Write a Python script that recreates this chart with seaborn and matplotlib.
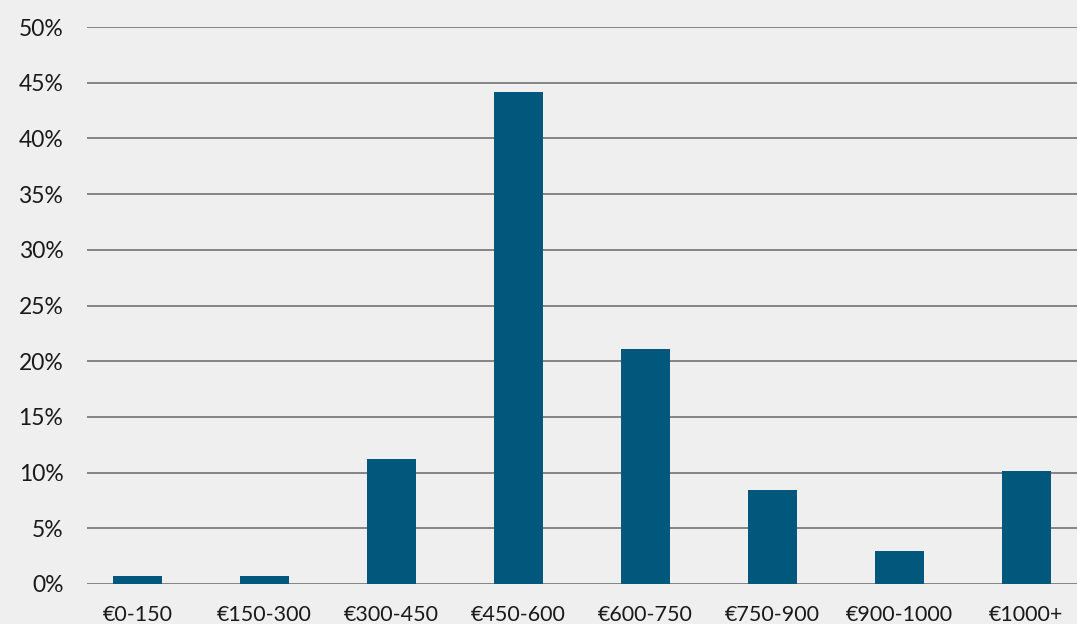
import matplotlib
matplotlib.use("Agg")
import matplotlib.pyplot as plt
import seaborn as sns
import pandas as pd
from matplotlib.ticker import PercentFormatter

sns.set_theme(style="white")
plt.rcParams["font.family"] = ["Lato", "DejaVu Sans"]

# faixas de preço e percentagem de respostas
categorias = ["€0-150", "€150-300", "€300-450", "€450-600",
              "€600-750", "€750-900", "€900-1000", "€1000+"]
percentagens = [0.7, 0.7, 11.2, 44.2, 21.1, 8.4, 3.0, 10.1]
y_ticks = [0, 5, 10, 15, 20, 25, 30, 35, 40, 45, 50]

df = pd.DataFrame({"faixa": categorias, "pct": percentagens})

fundo = "#efefef"
fig = plt.figure(figsize=(10.77, 6.24), dpi=100, facecolor=fundo)
ax = fig.add_axes([87 / 1077, 40 / 624, 1 - 87 / 1077, (584 - 27) / 624])
ax.set_facecolor(fundo)

sns.barplot(data=df, x="faixa", y="pct", color="#02577c", saturation=1,
            width=0.385, linewidth=0, ax=ax, zorder=3)

ax.set_ylim(0, 50)
ax.set_xlim(-0.4, 7.4)
ax.set_yticks(y_ticks)
ax.yaxis.set_major_formatter(PercentFormatter(decimals=0))
ax.yaxis.grid(True, color="#858585", linewidth=1.4, zorder=0)
ax.set_axisbelow(True)
for s in ax.spines.values():
    s.set_visible(False)

ax.set_xlabel("")
ax.set_ylabel("")
ax.tick_params(axis="y", length=0, pad=17, labelsize=16.5, labelcolor="#1a1a1a")
ax.tick_params(axis="x", length=0, pad=15, labelsize=15.5, labelcolor="#1a1a1a")

fig.savefig("out.png", dpi=100, facecolor=fundo)
